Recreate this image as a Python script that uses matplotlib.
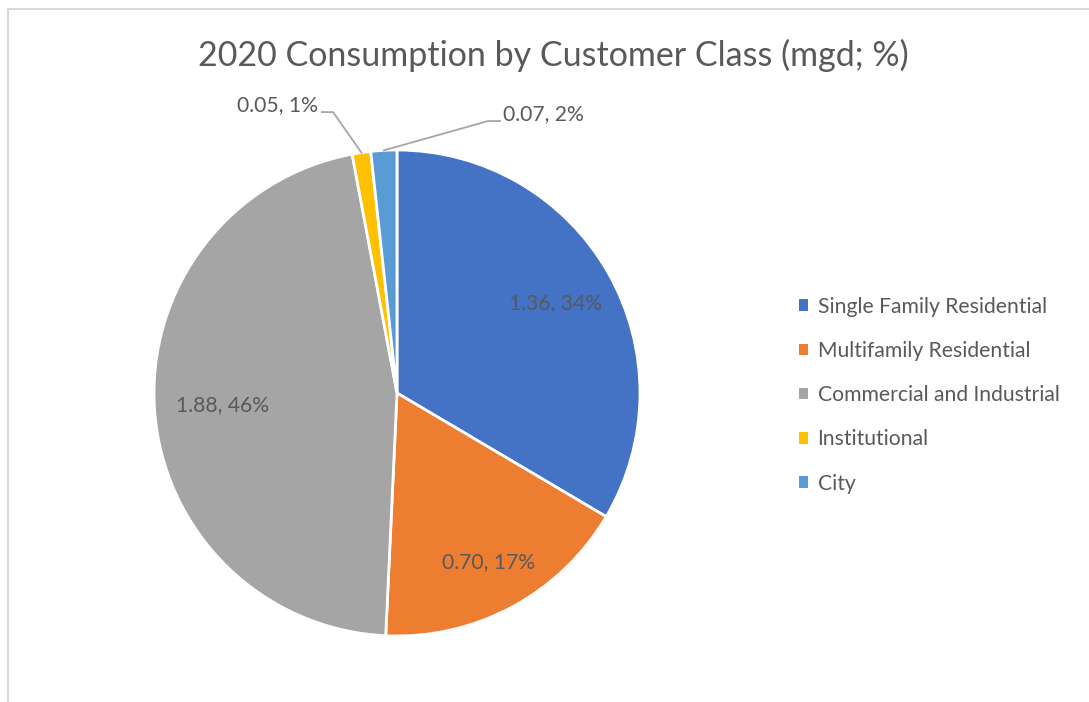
import numpy as np
import matplotlib.pyplot as plt
from matplotlib.patches import Patch

# 2020 consumption by customer class (mgd)
classes = ["Single Family Residential", "Multifamily Residential",
           "Commercial and Industrial", "Institutional", "City"]
mgd = [1.36, 0.70, 1.88, 0.05, 0.07]
pct_labels = ["34%", "17%", "46%", "1%", "2%"]
colors = ["#4472C4", "#ED7D31", "#A5A5A5", "#FFC000", "#5B9BD5"]

txt = "#595959"
plt.rcParams['font.family'] = ['Lato', 'DejaVu Sans']
fs = 15.2

fig = plt.figure(figsize=(10.89, 7.02), dpi=100)

# light chart-area border (top and left visible)
fig.add_artist(plt.Line2D([8/1089, 8/1089], [0, 1 - 9/702], color="#d9d9d9", lw=1.5))
fig.add_artist(plt.Line2D([8/1089, 1], [1 - 9/702, 1 - 9/702], color="#d9d9d9", lw=1.5))

fig.text(553/1089, 1 - 55/702, "2020 Consumption by Customer Class (mgd; %)",
         ha="center", va="center", fontsize=24.5, color=txt)

ax = fig.add_axes([154/1089, 66/702, 486/1089, 486/702])
wedges, _ = ax.pie(mgd, colors=colors, startangle=90, counterclock=False,
                   wedgeprops=dict(edgecolor="white", linewidth=2))
ax.set_xlim(-1, 1)
ax.set_ylim(-1, 1)
ax.set_aspect("equal")

labels = [f"{v:.2f}, {p}" for v, p in zip(mgd, pct_labels)]
inner_r = [0.75, 0.79, 0.72]
for i in range(3):
    w = wedges[i]
    ang = np.deg2rad((w.theta1 + w.theta2) / 2)
    ax.text(inner_r[i] * np.cos(ang), inner_r[i] * np.sin(ang), labels[i],
            ha="center", va="center", fontsize=fs, color=txt)

# outside labels with leader lines
lc = "#a6a6a6"
w = wedges[3]
ang = np.deg2rad((w.theta1 + w.theta2) / 2)
ax.plot([np.cos(ang), -0.263, -0.309], [np.sin(ang), 1.156, 1.156],
        color=lc, lw=1.3, clip_on=False)
ax.text(-0.325, 1.142, labels[3], ha="right", va="bottom", fontsize=fs, color=txt)

w = wedges[4]
ang = np.deg2rad((w.theta1 + w.theta2) / 2)
ax.plot([np.cos(ang), 0.374, 0.424], [np.sin(ang), 1.119, 1.119],
        color=lc, lw=1.3, clip_on=False)
ax.text(0.437, 1.105, labels[4], ha="left", va="bottom", fontsize=fs, color=txt)

handles = [Patch(facecolor=c, edgecolor="none") for c in colors]
fig.legend(handles, classes, loc="upper left", bbox_to_anchor=(788/1089, 1 - 286/702),
           frameon=False, fontsize=fs, labelcolor=txt, handlelength=0.45,
           handleheight=0.45, handletextpad=0.45, labelspacing=1.15, borderpad=0)

fig.savefig("out.png", dpi=100, facecolor="white")
